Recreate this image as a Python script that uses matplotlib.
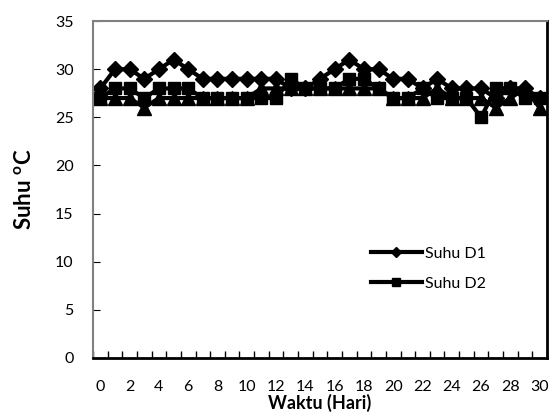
import numpy as np
import matplotlib.pyplot as plt

plt.rcParams['font.family'] = ['Lato', 'DejaVu Sans']

# Data
hari = list(range(0, 31))
suhu_d1 = [28, 30, 30, 29, 30, 31, 30, 29, 29, 29, 29, 29, 29, 28, 28, 29,
           30, 31, 30, 30, 29, 29, 28, 29, 28, 28, 28, 27, 28, 28, 27]
suhu_d2 = [27, 28, 28, 27, 28, 28, 28, 27, 27, 27, 27, 27, 27, 29, 28, 28,
           28, 29, 29, 28, 27, 27, 28, 27, 27, 27, 25, 28, 28, 27, 27]
suhu_d3 = [27, 27, 27, 26, 27, 27, 27, 27, 27, 27, 27, 28, 28, 28, 28, 28,
           28, 28, 28, 28, 27, 27, 27, 28, 27, 27, 27, 26, 27, 28, 26]

fig = plt.figure(figsize=(5.57, 4.17), dpi=100)
ax = fig.add_axes([0.167, 0.1415, 0.815, 0.808])

x = np.arange(len(hari))
ax.plot(x, suhu_d3, color='black', linewidth=3, marker='^', markersize=10)
ax.plot(x, suhu_d2, color='black', linewidth=3, marker='s', markersize=9, label='Suhu D2')
ax.plot(x, suhu_d1, color='black', linewidth=3, marker='D', markersize=8, label='Suhu D1')

ax.set_xlim(-0.5, len(hari) - 0.5)
ax.set_ylim(0, 35)
ax.set_yticks(np.arange(0, 36, 5))
ax.set_xticks(x[::2])
ax.set_xticklabels([str(h) for h in hari[::2]])
ax.set_xticks(np.arange(-0.5, len(hari), 1), minor=True)

ax.tick_params(axis='x', which='major', length=0, pad=16, labelsize=11.5)
ax.tick_params(axis='x', which='minor', direction='in', length=5, width=1)
ax.tick_params(axis='y', direction='in', length=5, labelsize=11.5, pad=14)

for side in ['left', 'top']:
    ax.spines[side].set_color('#808080')
    ax.spines[side].set_linewidth(1.5)
for side in ['right', 'bottom']:
    ax.spines[side].set_color('black')
    ax.spines[side].set_linewidth(2)

ax.set_xlabel('Waktu (Hari)', fontsize=13, fontweight='bold', labelpad=0)
ax.set_ylabel('Suhu $^{\\mathregular{o}}$C', fontsize=16, fontweight='bold', labelpad=14)

handles, labels = ax.get_legend_handles_labels()
order = [labels.index('Suhu D1'), labels.index('Suhu D2')]
ax.legend([handles[i] for i in order], [labels[i] for i in order],
          loc='center left', bbox_to_anchor=(0.58, 0.265), frameon=False,
          fontsize=11.5, handlelength=3.2, handletextpad=0.2, labelspacing=1.0,
          markerscale=0.7)

fig.savefig('out.png', dpi=100)
